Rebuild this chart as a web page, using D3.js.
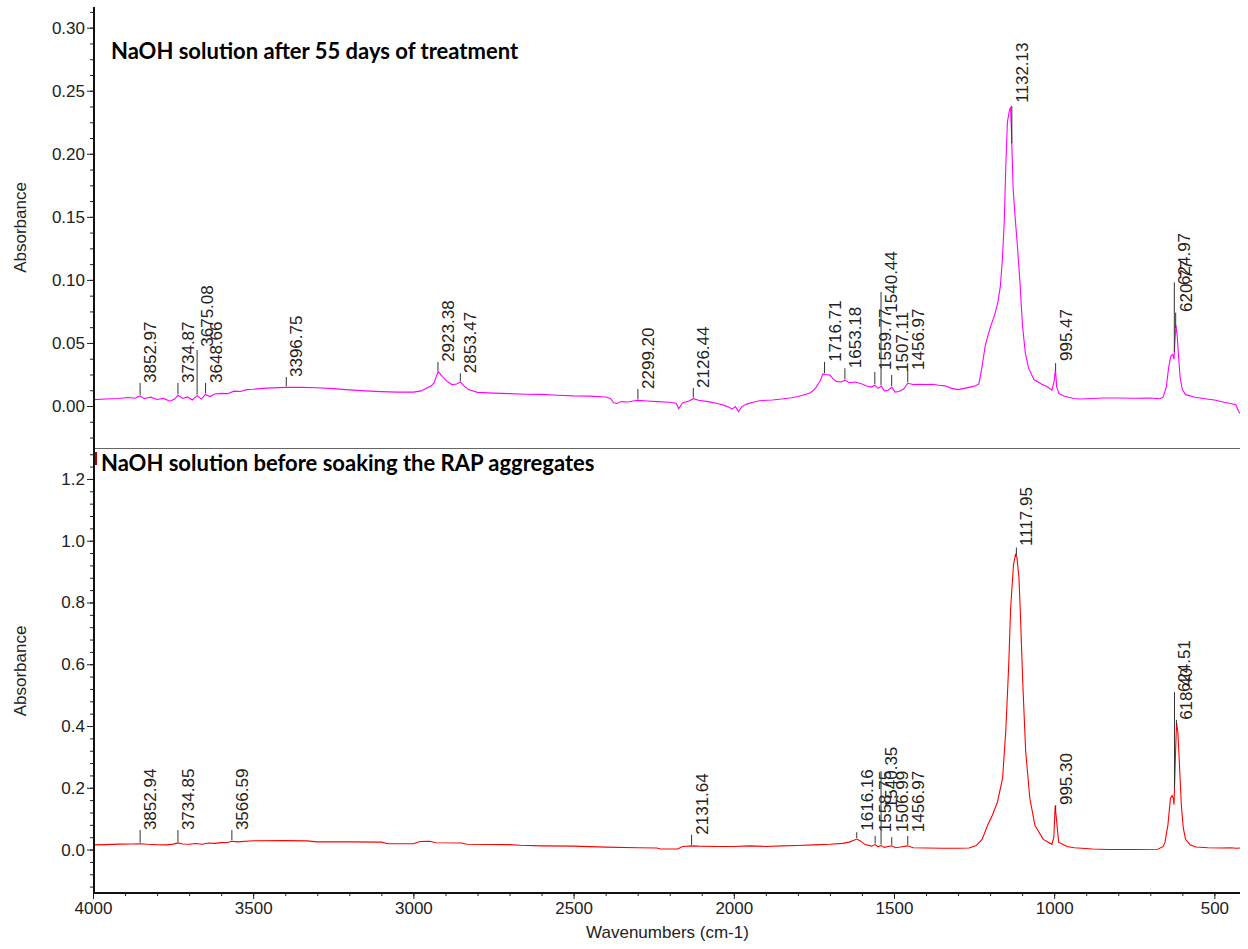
<!DOCTYPE html>
<html lang="en">
<head>
<meta charset="UTF-8">
<title>FTIR spectra - NaOH solution</title>
<style>
  body { margin: 0; background: #fff; }
  svg { display: block; font-family: "Liberation Sans", Arial, sans-serif; }
  .tick text { font-size: 17px; fill: #222; }
  .tick line { stroke: #222; }
  .axis path { display: none; }
  .peak line { stroke: #333; stroke-width: 1; }
  .peak text { font-size: 17px; fill: #222; }
  .title { font-family: Lato, "Open Sans", sans-serif; font-weight: bold; font-size: 22px; fill: #000; }
</style>
</head>
<body>
<svg width="1248" height="949"></svg>
<script src="https://d3js.org/d3.v7.min.js"></script>
<script>
// spectrum after 55 days of treatment: [wavenumber, absorbance]
const afterSpectrum = [
  [4000,0.0050],[3960,0.0055],[3920,0.0060],[3890,0.0068],[3870,0.0062],[3853,0.0080],[3840,0.0058],
  [3820,0.0070],[3800,0.0052],[3780,0.0060],[3760,0.0038],[3745,0.0055],[3735,0.0085],[3720,0.0060],
  [3705,0.0072],[3690,0.0048],[3675,0.0082],[3662,0.0055],[3649,0.0092],[3635,0.0075],[3620,0.0095],
  [3600,0.0100],[3580,0.0098],[3560,0.0118],[3540,0.0115],[3520,0.0130],[3500,0.0133],[3460,0.0142],
  [3420,0.0146],[3397,0.0148],[3350,0.0148],[3300,0.0145],[3250,0.0138],[3200,0.0128],[3150,0.0120],
  [3100,0.0114],[3050,0.0110],[3000,0.0110],[2975,0.0120],[2960,0.0140],[2945,0.0158],[2935,0.0185],
  [2923,0.0275],[2910,0.0235],[2895,0.0195],[2880,0.0170],[2865,0.0175],[2853,0.0190],[2842,0.0160],
  [2828,0.0130],[2800,0.0108],[2750,0.0102],[2700,0.0098],[2650,0.0093],[2600,0.0092],[2550,0.0085],
  [2500,0.0080],[2450,0.0078],[2400,0.0072],[2385,0.0060],[2375,0.0025],[2365,0.0020],[2350,0.0035],
  [2330,0.0032],[2310,0.0042],[2299,0.0045],[2270,0.0040],[2240,0.0035],[2200,0.0030],[2180,0.0022],
  [2172,-0.0020],[2160,0.0025],[2140,0.0040],[2126,0.0058],[2110,0.0045],[2080,0.0035],[2050,0.0020],
  [2030,0.0005],[2015,-0.0010],[2005,-0.0025],[1995,-0.0005],[1985,-0.0045],[1975,-0.0005],[1960,0.0015],
  [1940,0.0030],[1920,0.0042],[1880,0.0048],[1850,0.0055],[1820,0.0065],[1800,0.0075],[1780,0.0090],
  [1760,0.0105],[1745,0.0140],[1730,0.0200],[1722,0.0255],[1712,0.0250],[1700,0.0245],[1690,0.0215],
  [1680,0.0195],[1665,0.0190],[1653,0.0205],[1640,0.0185],[1620,0.0190],[1600,0.0175],[1585,0.0158],
  [1570,0.0150],[1560,0.0165],[1550,0.0140],[1540,0.0158],[1530,0.0120],[1518,0.0125],[1507,0.0150],
  [1497,0.0110],[1485,0.0115],[1470,0.0135],[1457,0.0180],[1440,0.0170],[1420,0.0172],[1400,0.0170],
  [1380,0.0172],[1360,0.0165],[1340,0.0160],[1320,0.0140],[1300,0.0130],[1280,0.0140],[1262,0.0150],
  [1245,0.0160],[1235,0.0175],[1226,0.0300],[1215,0.0480],[1200,0.0620],[1186,0.0720],[1176,0.0820],
  [1168,0.0950],[1162,0.1150],[1156,0.1450],[1151,0.1900],[1146,0.2250],[1140,0.2340],[1136,0.2370],
  [1133,0.2150],[1128,0.1720],[1122,0.1500],[1115,0.1280],[1107,0.0990],[1099,0.0640],[1090,0.0420],
  [1080,0.0300],[1063,0.0210],[1040,0.0175],[1020,0.0150],[1007,0.0125],[1000,0.0200],[996,0.0290],
  [992,0.0150],[985,0.0100],[970,0.0080],[940,0.0060],[920,0.0056],[880,0.0060],[845,0.0063],
  [800,0.0064],[750,0.0062],[700,0.0063],[670,0.0058],[660,0.0070],[650,0.0150],[643,0.0300],
  [636,0.0395],[630,0.0410],[626,0.0370],[623,0.0520],[620,0.0640],[616,0.0560],[612,0.0400],
  [607,0.0230],[600,0.0130],[590,0.0090],[560,0.0070],[524,0.0056],[500,0.0048],[470,0.0030],
  [450,0.0020],[433,0.0010],[425,-0.0040],[420,-0.0060]
];

// spectrum before soaking: [wavenumber, absorbance]
const beforeSpectrum = [
  [4000,0.0150],[3960,0.0160],[3920,0.0175],[3880,0.0180],[3853,0.0190],[3830,0.0170],[3800,0.0155],
  [3770,0.0150],[3750,0.0175],[3735,0.0215],[3720,0.0180],[3700,0.0170],[3680,0.0195],[3660,0.0170],
  [3640,0.0210],[3620,0.0200],[3600,0.0225],[3580,0.0230],[3567,0.0270],[3550,0.0250],[3500,0.0285],
  [3400,0.0290],[3333,0.0280],[3300,0.0250],[3200,0.0250],[3100,0.0240],[3080,0.0190],[3000,0.0190],
  [2980,0.0260],[2950,0.0270],[2930,0.0220],[2850,0.0210],[2833,0.0170],[2700,0.0160],[2667,0.0140],
  [2600,0.0120],[2500,0.0110],[2400,0.0080],[2300,0.0060],[2240,0.0050],[2230,0.0020],[2175,0.0020],
  [2160,0.0100],[2132,0.0120],[2110,0.0110],[2050,0.0100],[2000,0.0100],[1950,0.0120],[1900,0.0100],
  [1850,0.0120],[1800,0.0130],[1750,0.0150],[1700,0.0170],[1660,0.0200],[1640,0.0240],[1625,0.0300],
  [1616,0.0340],[1605,0.0280],[1590,0.0160],[1570,0.0110],[1559,0.0160],[1550,0.0090],[1540,0.0130],
  [1530,0.0070],[1518,0.0100],[1507,0.0120],[1495,0.0060],[1480,0.0080],[1457,0.0120],[1440,0.0060],
  [1400,0.0050],[1350,0.0040],[1300,0.0040],[1266,0.0050],[1244,0.0120],[1225,0.0330],[1208,0.0780],
  [1193,0.1110],[1177,0.1540],[1161,0.2310],[1151,0.3850],[1142,0.5940],[1136,0.7800],[1127,0.9220],
  [1121,0.9550],[1116,0.9450],[1110,0.8800],[1106,0.7800],[1098,0.5390],[1089,0.3190],[1076,0.1660],
  [1060,0.0780],[1034,0.0330],[1007,0.0170],[1001,0.0400],[997,0.1400],[993,0.1000],[986,0.0240],
  [960,0.0100],[937,0.0060],[880,0.0020],[832,0.0000],[750,0.0000],[676,0.0010],[660,0.0100],
  [654,0.0240],[645,0.0800],[637,0.1660],[632,0.1750],[628,0.1650],[626,0.1450],[621,0.3200],
  [618,0.4100],[614,0.3800],[611,0.3190],[603,0.1430],[597,0.0700],[590,0.0330],[575,0.0150],
  [557,0.0080],[520,0.0060],[480,0.0050],[450,0.0060],[430,0.0040],[420,0.0050]
];

// peak labels: [wavenumber, tick top absorbance, text start absorbance]
const afterPeaks = [
  [3852.97,0.0183,0.0183],[3734.87,0.0183,0.0183],[3675.08,0.0444,0.047],[3648.66,0.0183,0.0183],
  [3396.75,0.023,0.023],[2923.38,0.035,0.035],[2853.47,0.026,0.026],[2299.20,0.0135,0.0135],
  [2126.44,0.0143,0.0143],[1716.71,0.035,0.035],[1653.18,0.030,0.030],[1559.77,0.027,0.0286],
  [1540.44,0.0905,0.074],[1507.11,0.0246,0.027],[1456.97,0.0286,0.0286],[1132.13,0.238,0.2405],
  [995.47,0.034,0.0357],[624.97,0.098,0.096],[620.77,0.074,0.0746]
];
const beforePeaks = [
  [3852.94,0.063,0.063],[3734.85,0.063,0.063],[3566.59,0.063,0.063],[2131.64,0.048,0.048],
  [1616.16,0.056,0.061],[1558.75,0.044,0.056],[1540.35,0.254,0.134],[1506.99,0.040,0.056],
  [1456.97,0.044,0.056],[1117.95,0.978,0.983],[995.30,0.144,0.144],[624.51,0.51,0.51],
  [618.40,0.42,0.42]
];

const afterTitle = "NaOH solution after 55 days of treatment";
const beforeTitle = "NaOH solution before soaking the RAP aggregates";
const xMajor = [4000, 3500, 3000, 2500, 2000, 1500, 1000, 500];
const afterYTicks = [0, 0.05, 0.10, 0.15, 0.20, 0.25, 0.30];
const beforeYTicks = [0, 0.2, 0.4, 0.6, 0.8, 1.0, 1.2];

const svg = d3.select("svg");
const left = 94, right = 1240;

const x = d3.scaleLinear().domain([4000, 420]).range([93, right]);

const panels = [
  { data: afterSpectrum, peaks: afterPeaks, title: afterTitle, color: "#ff00ff",
    y: d3.scaleLinear().domain([-0.0333, 0.3164]).range([448, 7]),
    ticks: afterYTicks, minorStep: 0.0125, fmt: d3.format(".2f"), titleX: 111, titleY: 59 },
  { data: beforeSpectrum, peaks: beforePeaks, title: beforeTitle, color: "#ff0000",
    y: d3.scaleLinear().domain([-0.1407, 1.297]).range([893, 449]),
    ticks: beforeYTicks, minorStep: 0.04, fmt: d3.format(".1f"), titleX: 101, titleY: 471 }
];

panels.forEach((p, i) => {
  const [y0, y1] = p.y.range();
  const clipId = "clip" + i;
  svg.append("clipPath").attr("id", clipId)
    .append("rect").attr("x", left).attr("y", y1).attr("width", right - left).attr("height", y0 - y1);

  // minor + major y ticks
  const dom = p.y.domain();
  const minor = d3.range(Math.ceil(dom[0] / p.minorStep) * p.minorStep, dom[1], p.minorStep);
  svg.append("g").attr("class", "axis").attr("transform", `translate(${left},0)`)
    .call(d3.axisLeft(p.y).tickValues(minor).tickSize(4).tickFormat(""));
  svg.append("g").attr("class", "axis").attr("transform", `translate(${left},0)`)
    .call(d3.axisLeft(p.y).tickValues(p.ticks).tickSize(7).tickPadding(2).tickFormat(p.fmt));

  // y label
  svg.append("text")
    .attr("transform", `translate(26,${(y0 + y1) / 2}) rotate(-90)`)
    .attr("text-anchor", "middle")
    .style("font-size", "17px").style("fill", "#222")
    .text("Absorbance");

  const line = d3.line().x(d => x(d[0])).y(d => p.y(d[1]));
  svg.append("path").datum(p.data)
    .attr("clip-path", `url(#${clipId})`)
    .attr("d", line)
    .attr("fill", "none")
    .attr("stroke", p.color)
    .attr("stroke-width", 1.1);

  // peak annotations
  const wns = p.data.map(d => d[0]);
  const bis = d3.bisector(d => -d).left;
  const curveAt = wn => {
    const k = Math.max(1, Math.min(p.data.length - 1, bis(wns, -wn)));
    const a = p.data[k - 1], b = p.data[k];
    return a[1] + (b[1] - a[1]) * (wn - a[0]) / (b[0] - a[0]);
  };
  const pk = svg.append("g").selectAll("g").data(p.peaks).join("g").attr("class", "peak");
  pk.append("line")
    .attr("x1", d => x(d[0])).attr("x2", d => x(d[0]))
    .attr("y1", d => p.y(curveAt(d[0])) - 1)
    .attr("y2", d => p.y(d[1]));
  pk.append("text")
    .attr("transform", d => `translate(${x(d[0]) + 16},${p.y(d[2])}) rotate(-90)`)
    .text(d => d[0].toFixed(2));

  svg.append("text").attr("class", "title")
    .attr("x", p.titleX).attr("y", p.titleY)
    .text(p.title);
});

// panel separator
svg.append("line").attr("x1", left).attr("x2", right).attr("y1", 448.5).attr("y2", 448.5)
  .attr("stroke", "#666").attr("stroke-width", 1);
// small red marker left of lower title
svg.append("line").attr("x1", 96).attr("x2", 96).attr("y1", 452).attr("y2", 465)
  .attr("stroke", "#b00000").attr("stroke-width", 2);

// x axis
const xMinor = d3.range(500, 4001, 100);
svg.append("g").attr("class", "axis").attr("transform", "translate(0,893)")
  .call(d3.axisBottom(x).tickValues(xMinor).tickSize(3).tickFormat(""));
svg.append("g").attr("class", "axis").attr("transform", "translate(0,893)")
  .call(d3.axisBottom(x).tickValues(xMajor).tickSize(6).tickPadding(3).tickFormat(d3.format("d")));

svg.append("line").attr("x1", 93).attr("x2", right).attr("y1", 893).attr("y2", 893)
  .attr("stroke", "#111").attr("stroke-width", 2);
svg.append("line").attr("x1", left).attr("x2", left).attr("y1", 7).attr("y2", 894)
  .attr("stroke", "#111").attr("stroke-width", 2);

svg.append("text")
  .attr("x", (93 + right) / 2 + 1).attr("y", 938)
  .attr("text-anchor", "middle")
  .style("font-size", "17px").style("fill", "#222")
  .text("Wavenumbers (cm-1)");
</script>
</body>
</html>
